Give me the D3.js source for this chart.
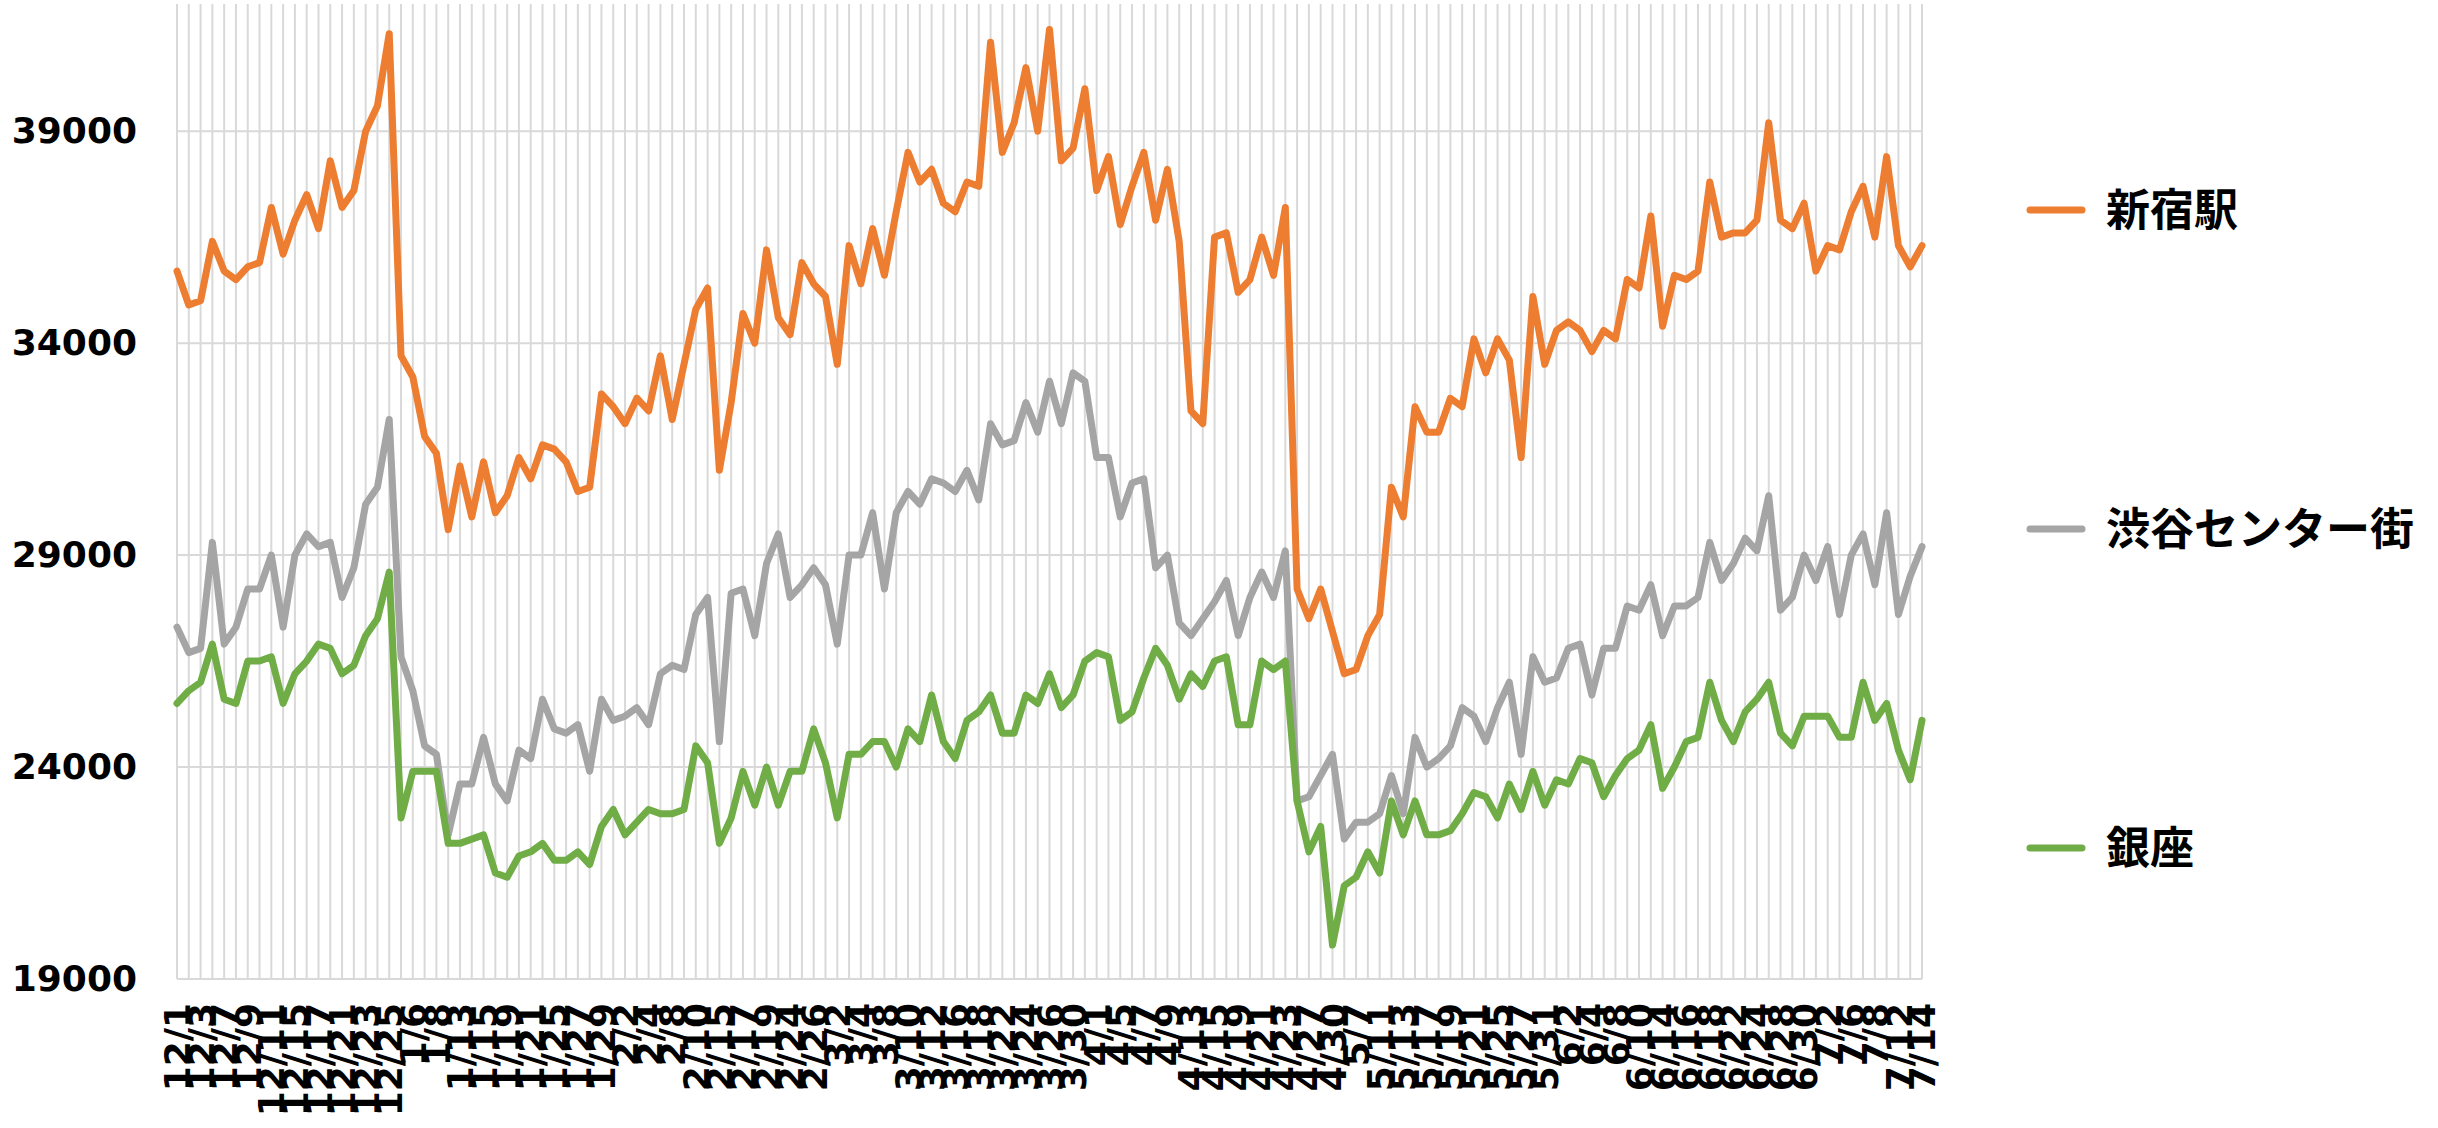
<!DOCTYPE html>
<html><head><meta charset="utf-8">
<script src="https://cdn.jsdelivr.net/npm/d3@7"></script>
<style>html,body{margin:0;padding:0;background:#fff;overflow:hidden}</style>
</head><body><svg id="c" width="2438" height="1128"></svg>
<script>
const dates = ["12/1","12/2","12/3","12/4","12/7","12/8","12/9","12/10","12/11","12/14","12/15","12/16","12/17","12/18","12/21","12/22","12/23","12/24","12/25",
"1/5","1/6","1/7","1/8","1/12","1/13","1/14","1/15","1/18","1/19","1/20","1/21","1/22","1/25","1/26","1/27","1/28","1/29",
"2/1","2/2","2/3","2/4","2/5","2/8","2/9","2/10","2/12","2/15","2/16","2/17","2/18","2/19","2/22","2/24","2/25","2/26",
"3/1","3/2","3/3","3/4","3/5","3/8","3/9","3/10","3/11","3/12","3/15","3/16","3/17","3/18","3/19","3/22","3/23","3/24","3/25","3/26","3/29","3/30","3/31",
"4/1","4/2","4/5","4/6","4/7","4/8","4/9","4/12","4/13","4/14","4/15","4/16","4/19","4/20","4/21","4/22","4/23","4/26","4/27","4/28","4/30",
"5/6","5/7","5/10","5/11","5/12","5/13","5/14","5/17","5/18","5/19","5/20","5/21","5/24","5/25","5/26","5/27","5/28","5/31",
"6/1","6/2","6/3","6/4","6/7","6/8","6/9","6/10","6/11","6/14","6/15","6/16","6/17","6/18","6/21","6/22","6/23","6/24","6/25","6/28","6/29","6/30",
"7/1","7/2","7/5","7/6","7/7","7/8","7/9","7/12","7/13","7/14"];

const shinjuku = [35700,34900,35000,36400,35700,35500,35800,35900,37200,36100,36900,37500,36700,38300,37200,37600,39000,39600,41300,
33700,33200,31800,31400,29600,31100,29900,31200,30000,30400,31300,30800,31600,31500,31200,30500,30600,32800,
32500,32100,32700,32400,33700,32200,33500,34800,35300,31000,32600,34700,34000,36200,34600,34200,35900,35400,
35100,33500,36300,35400,36700,35600,37100,38500,37800,38100,37300,37100,37800,37700,41100,38500,39200,40500,39000,41400,38300,38600,40000,
37600,38400,36800,37700,38500,36900,38100,36400,32400,32100,36500,36600,35200,35500,36500,35600,37200,28200,27500,28200,27200,
26200,26300,27100,27600,30600,29900,32500,31900,31900,32700,32500,34100,33300,34100,33600,31300,35100,33500,
34300,34500,34300,33800,34300,34100,35500,35300,37000,34400,35600,35500,35700,37800,36500,36600,36600,36900,39200,36900,
36700,37300,35700,36300,36200,37100,37700,36500,38400,36300,35800,36300];

const shibuya = [27300,26700,26800,29300,26900,27300,28200,28200,29000,27300,29000,29500,29200,29300,28000,28700,30200,30600,32200,
26600,25800,24500,24300,22400,23600,23600,24700,23600,23200,24400,24200,25600,24900,24800,25000,23900,25600,
25100,25200,25400,25000,26200,26400,26300,27600,28000,24600,28100,28200,27100,28800,29500,28000,28300,28700,
28300,26900,29000,29000,30000,28200,30000,30500,30200,30800,30700,30500,31000,30300,32100,31600,31700,32600,31900,33100,32100,33300,33100,
31300,31300,29900,30700,30800,28700,29000,27400,27100,27500,27900,28400,27100,28000,28600,28000,29100,23200,23300,23800,24300,
22300,22700,22700,22900,23800,22900,24700,24000,24200,24500,25400,25200,24600,25400,26000,24300,26600,26000,
26100,26800,26900,25700,26800,26800,27800,27700,28300,27100,27800,27800,28000,29300,28400,28800,29400,29100,30400,27700,
28000,29000,28400,29200,27600,29000,29500,28300,30000,27600,28500,29200];

const ginza = [25500,25800,26000,26900,25600,25500,26500,26500,26600,25500,26200,26500,26900,26800,26200,26400,27100,27500,28600,
22800,23900,23900,23900,22200,22200,22300,22400,21500,21400,21900,22000,22200,21800,21800,22000,21700,22600,
23000,22400,22700,23000,22900,22900,23000,24500,24100,22200,22800,23900,23100,24000,23100,23900,23900,24900,
24100,22800,24300,24300,24600,24600,24000,24900,24600,25700,24600,24200,25100,25300,25700,24800,24800,25700,25500,26200,25400,25700,26500,
26700,26600,25100,25300,26100,26800,26400,25600,26200,25900,26500,26600,25000,25000,26500,26300,26500,23200,22000,22600,19800,
21200,21400,22000,21500,23200,22400,23200,22400,22400,22500,22900,23400,23300,22800,23600,23000,23900,23100,
23700,23600,24200,24100,23300,23800,24200,24400,25000,23500,24000,24600,24700,26000,25100,24600,25300,25600,26000,24800,
24500,25200,25200,25200,24700,24700,26000,25100,25500,24400,23700,25100];

const seriesNames = ["新宿駅","渋谷センター街","銀座"];
const seriesColors = ["#ED7D31","#A5A5A5","#70AD47"];
const yTicks = [19000,24000,29000,34000,39000];

const svg = d3.select("#c");
const L = 177, R = 1922, T = 4, B = 979;
const x = d3.scalePoint().domain(d3.range(dates.length)).range([L, R]);
const y = d3.scaleLinear().domain([19000, 42000]).range([B, T]);

// vertical gridlines
svg.append("g").selectAll("line").data(d3.range(dates.length)).join("line")
  .attr("x1", d => x(d)).attr("x2", d => x(d)).attr("y1", T).attr("y2", B)
  .attr("stroke", "#D9D9D9").attr("stroke-width", 2);
// horizontal gridlines
svg.append("g").selectAll("line").data(yTicks).join("line")
  .attr("x1", L).attr("x2", R).attr("y1", d => y(d)).attr("y2", d => y(d))
  .attr("stroke", "#D9D9D9").attr("stroke-width", 2);

// y axis labels
const yAxis = d3.axisLeft(y).tickValues(yTicks).tickSize(0).tickPadding(40).tickFormat(d3.format("d"));
const gy = svg.append("g").attr("transform", `translate(${L},0)`).call(yAxis);
gy.select(".domain").remove();
gy.selectAll("text").attr("font-family", "DejaVu Sans").attr("font-weight", "bold")
  .attr("font-size", 36).attr("fill", "#000");

// x axis labels
const xAxis = d3.axisBottom(x).tickValues(d3.range(0, dates.length, 2)).tickSize(0).tickFormat(i => dates[i]);
const gx = svg.append("g").attr("transform", `translate(0,${B})`).call(xAxis);
gx.select(".domain").remove();
gx.selectAll("text").attr("font-family", "DejaVu Sans").attr("font-weight", "bold")
  .attr("font-size", 36).attr("fill", "#000")
  .attr("transform", "rotate(-90)").attr("text-anchor", "end")
  .attr("x", -24).attr("y", 0).attr("dy", "0.35em");

// lines
const all = [shinjuku, shibuya, ginza];
const line = d3.line().x((d, i) => x(i)).y(d => y(d));
[1, 2, 0].forEach(k => {
  svg.append("path").datum(all[k]).attr("d", line).attr("fill", "none")
    .attr("stroke", seriesColors[k]).attr("stroke-width", 7)
    .attr("stroke-linejoin", "round").attr("stroke-linecap", "round");
});

// legend
const legY = [210, 529, 848];
seriesNames.forEach((n, k) => {
  svg.append("line").attr("x1", 2030).attr("x2", 2082).attr("y1", legY[k]).attr("y2", legY[k])
    .attr("stroke", seriesColors[k]).attr("stroke-width", 7).attr("stroke-linecap", "round");
  svg.append("text").attr("x", 2106).attr("y", legY[k]).attr("dy", "0.36em")
    .attr("font-family", "Noto Sans CJK JP").attr("font-weight", "bold").attr("font-size", 44)
    .attr("fill", "#000").text(n);
});
</script></body></html>
